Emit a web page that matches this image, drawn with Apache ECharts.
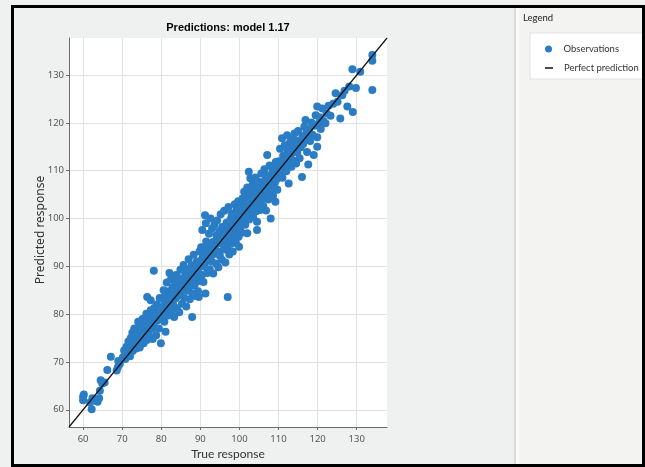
<!DOCTYPE html>
<html>
<head>
<meta charset="utf-8">
<script src="https://cdn.jsdelivr.net/npm/echarts@6/dist/echarts.min.js"></script>
<style>
html, body { margin: 0; padding: 0; background: #fff; }
#chart { width: 645px; height: 467px; }
</style>
</head>
<body>
<div id="chart"></div>
<script>
// axis range and ticks (both axes share them)
var axisRange = [56.4, 137.75];
var tickVals = [60, 70, 80, 90, 100, 110, 120, 130];

// observations [true response, predicted response]
var obs60s = [[60, 62.7], [60, 62], [60.2, 63.2], [62.4, 62.4], [62.2, 60.1], [63.7, 61.7], [64.1, 62.4], [63.4, 61.9],
    [61.8, 61.5], [64.3, 64], [64.5, 66.2], [64.9, 65.5], [65.5, 65.7], [66.2, 68.3], [67.1, 71.1], [68.6, 68.2],
    [69, 70.2], [69.4, 69.6], [68.9, 68.9]];
var obs70s = [[70.2, 71.0], [70.5, 72.4], [70.8, 70.6], [71.1, 73.2], [71.3, 71.9], [71.6, 74.3], [71.8, 72.6], [72.0, 71.2],
    [72.2, 75.0], [72.4, 73.6], [72.6, 76.1], [72.7, 72.3], [72.9, 74.7], [73.1, 77.0], [73.2, 73.4], [73.4, 75.6],
    [73.6, 72.8], [73.8, 76.8], [74.0, 74.2], [74.1, 78.4], [74.3, 75.3], [74.5, 73.0], [74.7, 77.6], [74.8, 75.9],
    [75.0, 74.4], [75.2, 79.0], [75.3, 76.6], [75.5, 73.9], [75.7, 78.0], [75.8, 75.1], [76.0, 77.3], [76.2, 80.1],
    [76.3, 74.6], [76.4, 83.6], [76.5, 78.6], [76.6, 76.2], [76.8, 79.4], [77.0, 75.4], [77.1, 77.8], [77.3, 82.9],
    [77.3, 80.8], [77.5, 76.9], [77.6, 79.1], [77.8, 74.8], [78.0, 78.3], [78.1, 89.1], [78.2, 81.3], [78.4, 77.2],
    [78.6, 79.8], [78.7, 75.6], [78.9, 82.0], [79.1, 78.7], [79.2, 80.6], [79.4, 77.0], [79.6, 83.4], [79.8, 79.3],
    [79.9, 73.9], [80.0, 81.4], [70.9, 72.0], [71.9, 73.9], [72.8, 73.9], [73.7, 74.6], [74.6, 76.4], [75.6, 76.0],
    [76.7, 77.5], [77.9, 79.5], [78.8, 80.8], [79.5, 80.3]];
var obs80s = [[80.2, 79.0], [80.3, 83.2], [80.5, 80.9], [80.6, 85.0], [80.8, 78.4], [81.0, 82.3], [81.1, 84.1], [81.1, 76.3],
    [81.3, 80.2], [81.4, 86.6], [81.6, 82.9], [81.8, 79.7], [81.9, 84.8], [82.1, 88.6], [82.2, 81.6], [82.4, 83.7],
    [82.5, 87.3], [82.7, 80.6], [82.9, 85.6], [83.0, 82.4], [83.2, 84.6], [83.3, 79.4], [83.5, 86.8], [83.7, 83.3],
    [83.8, 88.2], [84.0, 81.3], [84.1, 85.3], [84.3, 87.6], [84.5, 83.9], [84.6, 80.4], [84.8, 86.1], [84.9, 89.3],
    [85.1, 84.7], [85.3, 82.2], [85.4, 87.0], [85.6, 85.4], [85.7, 90.3], [85.9, 83.4], [86.1, 88.1], [86.2, 86.0],
    [86.4, 81.6], [86.5, 89.4], [86.7, 84.9], [86.9, 87.2], [87.0, 91.5], [87.2, 85.7], [87.3, 83.1], [87.5, 88.6],
    [87.7, 86.5], [87.8, 90.2], [87.9, 79.4], [88.0, 84.3], [88.2, 87.8], [88.3, 92.4], [88.5, 86.0], [88.7, 89.5],
    [88.8, 83.8], [89.0, 88.3], [89.1, 91.0], [89.3, 86.9], [89.4, 84.8], [89.6, 83.6], [89.6, 89.9], [89.8, 93.1],
    [89.9, 87.4], [80.9, 81.5], [82.0, 82.6], [83.1, 83.9], [84.2, 84.0], [85.0, 86.4], [85.8, 86.8], [86.6, 87.9],
    [87.4, 87.1], [88.1, 89.0], [88.9, 90.4], [89.5, 88.7]];
var obs90s = [[90.1, 90.6], [90.2, 94.0], [90.4, 88.2], [90.5, 97.6], [90.6, 91.8], [90.8, 86.7], [90.9, 93.4], [91.1, 89.9],
    [91.2, 100.7], [91.3, 84.3], [91.4, 99.0], [91.5, 95.2], [91.6, 91.1], [91.8, 88.6], [91.9, 94.6], [92.1, 92.3],
    [92.2, 96.8], [92.4, 89.4], [92.6, 100.0], [92.7, 93.7], [92.9, 91.0], [93.0, 97.9], [93.2, 95.1], [93.3, 88.5],
    [93.5, 92.6], [93.6, 98.7], [93.8, 94.3], [94.0, 90.6], [94.1, 96.5], [94.3, 99.6], [94.4, 93.1], [94.6, 89.8],
    [94.7, 95.7], [94.9, 97.4], [95.0, 92.2], [95.2, 100.9], [95.3, 94.8], [95.5, 91.4], [95.6, 98.2], [95.8, 96.0],
    [96.0, 93.5], [96.1, 101.6], [96.3, 97.0], [96.4, 90.8], [96.6, 95.3], [96.7, 99.1], [96.9, 94.0], [97.0, 83.6],
    [97.1, 97.8], [97.2, 102.4], [97.4, 92.5], [97.5, 96.4], [97.7, 99.8], [97.8, 94.7], [98.0, 101.0], [98.2, 97.3],
    [98.3, 93.1], [98.5, 100.2], [98.6, 95.9], [98.8, 103.0], [98.9, 98.4], [99.1, 94.9], [99.2, 101.7], [99.4, 97.1],
    [99.5, 99.3], [99.7, 103.6], [99.8, 96.2], [99.9, 94.1], [100.0, 100.6], [90.3, 91.3], [91.0, 92.4], [91.7, 93.1],
    [92.3, 91.9], [93.1, 94.4], [93.9, 95.2], [94.5, 94.9], [95.1, 96.6], [95.9, 95.7], [96.5, 97.9], [97.3, 98.8],
    [97.9, 97.9], [98.4, 99.1], [99.0, 99.9], [99.6, 100.8]];
var obs100s = [[100.2, 98.1], [100.3, 102.8], [100.5, 100.0], [100.6, 97.0], [100.8, 104.2], [100.9, 101.3], [101.1, 99.2],
    [101.2, 105.6], [101.4, 102.0], [101.5, 98.7], [101.7, 103.5], [101.8, 100.6], [102.0, 106.5], [102.0, 96.9],
    [102.1, 101.9], [102.3, 104.6], [102.4, 109.8], [102.5, 99.8], [102.6, 103.2], [102.8, 108.4], [102.9, 101.1],
    [103.1, 105.3], [103.2, 102.4], [103.4, 107.2], [103.5, 100.3], [103.7, 104.1], [103.8, 106.4], [104.0, 102.9],
    [104.1, 108.6], [104.3, 101.5], [104.5, 99.3], [104.5, 97.6], [104.6, 105.0], [104.8, 103.3], [104.9, 107.7],
    [105.1, 104.4], [105.3, 101.8], [105.4, 106.1], [105.6, 109.4], [105.7, 103.9], [105.9, 107.0], [106.1, 102.6],
    [106.2, 105.5], [106.4, 110.3], [106.5, 104.7], [106.7, 108.2], [106.8, 101.7], [107.0, 106.6], [107.1, 113.3],
    [107.2, 109.0], [107.4, 104.0], [107.6, 107.8], [107.7, 111.1], [107.9, 105.6], [108.0, 100.0], [108.1, 108.9],
    [108.3, 106.8], [108.5, 110.4], [108.6, 104.8], [108.8, 109.6], [109.0, 107.4], [109.2, 103.5], [109.3, 111.8],
    [109.5, 108.2], [109.7, 106.0], [109.8, 110.9], [100.4, 101.3], [101.0, 102.2], [101.6, 101.4], [102.2, 103.0],
    [102.7, 102.5], [103.3, 104.2], [103.9, 105.1], [104.4, 104.8], [105.0, 106.3], [105.5, 105.2], [106.0, 107.6],
    [106.6, 106.9], [107.3, 108.3], [107.8, 107.0], [108.4, 109.5], [108.9, 108.7], [109.4, 110.2]];
var obs110s = [[110.1, 112.0], [110.3, 109.2], [110.4, 114.6], [110.6, 111.4], [110.9, 116.8], [111.0, 108.5], [111.2, 113.1],
    [111.4, 110.6], [111.6, 115.3], [111.8, 112.4], [112.0, 109.9], [112.2, 117.4], [112.3, 114.0], [112.6, 107.3],
    [112.7, 111.7], [112.9, 115.9], [113.1, 113.2], [113.3, 110.8], [113.5, 116.5], [113.7, 114.3], [113.9, 112.1],
    [114.1, 117.8], [114.3, 115.0], [114.5, 111.5], [114.8, 113.8], [115.0, 118.3], [115.2, 116.1], [115.4, 112.6],
    [115.7, 114.9], [116.0, 108.7], [116.1, 117.3], [116.3, 115.6], [116.6, 119.2], [116.9, 120.6], [117.0, 116.6],
    [117.3, 113.9], [117.6, 111.3], [117.8, 118.6], [118.1, 116.2], [118.4, 120.1], [118.7, 117.5], [119.0, 113.3],
    [119.2, 119.4], [119.5, 121.6], [119.9, 117.0], [119.9, 115.0], [119.9, 123.4], [110.7, 110.5], [111.5, 112.9],
    [112.4, 112.2], [113.2, 114.6], [114.0, 113.9], [114.7, 116.2], [115.5, 115.4], [116.4, 116.9], [117.2, 118.3],
    [118.0, 117.8], [118.9, 119.6]];
var obs120s = [[120.2, 119.8], [120.5, 121.2], [120.8, 118.7], [121.2, 123.0], [121.5, 120.4], [122.0, 119.9], [122.3, 122.0],
    [122.8, 123.6], [123.3, 121.5], [124.0, 124.0], [124.6, 126.2], [125.1, 124.4], [125.8, 120.9], [126.3, 125.8],
    [126.9, 126.7], [127.6, 123.4], [128.1, 127.6], [129.0, 122.3], [128.9, 131.2], [129.8, 127.3], [130.9, 130.7],
    [134.0, 134.2], [134.0, 133.0], [134.0, 126.9]];

var observations = [].concat(obs60s, obs70s, obs80s, obs90s, obs100s, obs110s, obs120s);
var perfectLine = [[axisRange[0], axisRange[0]], [axisRange[1], axisRange[1]]];

var chart = echarts.init(document.getElementById('chart'));

var gridMarks = [];
tickVals.forEach(function (v) {
    gridMarks.push({xAxis: v});
    gridMarks.push({yAxis: v});
});

function makeAxis(margin) {
    return {
        type: 'value',
        min: axisRange[0],
        max: axisRange[1],
        splitLine: {show: false},
        axisLine: {show: true, lineStyle: {color: '#6b6b6b', width: 1}},
        axisTick: {show: true, customValues: tickVals, length: 3, lineStyle: {color: '#6b6b6b'}},
        axisLabel: {customValues: tickVals, margin: margin, color: '#555', fontSize: 9.5, fontFamily: 'Noto Sans'}
    };
}

var legendText = {fontSize: 9.5, color: '#333', fontFamily: 'Lato', padding: [0, 0, 0, 6]};

var option = {
    animation: false,
    backgroundColor: '#eff1f1',
    grid: {left: 69, top: 38, width: 318, height: 389, show: true, backgroundColor: '#fff', borderWidth: 0},
    xAxis: makeAxis(7),
    yAxis: makeAxis(5),
    legend: [
        {left: 540, top: 39, itemWidth: 8, itemHeight: 7, icon: 'circle', data: ['Observations'], textStyle: legendText},
        {left: 540, top: 58, itemWidth: 8, itemHeight: 1.5, icon: 'rect', data: ['Perfect prediction'], textStyle: legendText}
    ],
    graphic: [
        {type: 'rect', z: -10, shape: {x: 515, y: 6, width: 130, height: 461}, style: {fill: '#f3f3f2'}},
        {type: 'rect', z: -9, shape: {x: 514, y: 6, width: 2, height: 461}, style: {fill: '#dcdcdc'}},
        {type: 'rect', z: -9, shape: {x: 516, y: 6, width: 3, height: 461}, style: {fill: '#fafafa'}},
        {type: 'rect', z: -8, shape: {x: 530, y: 33, width: 120, height: 46}, style: {fill: '#fff', stroke: '#e3e3e3', lineWidth: 1}},
        {type: 'text', x: 523, y: 18, style: {text: 'Legend', font: '9.5px Lato', fill: '#222', textVerticalAlign: 'middle'}},
        {type: 'text', x: 228, y: 28, style: {text: 'Predictions: model 1.17', font: 'bold 11px "Liberation Sans"', fill: '#000', textAlign: 'center', textVerticalAlign: 'middle'}},
        {type: 'text', x: 228, y: 454, style: {text: 'True response', font: '12px Lato', fill: '#333', textAlign: 'center', textVerticalAlign: 'middle'}},
        {type: 'text', x: 41, y: 230, rotation: Math.PI / 2, style: {text: 'Predicted response', font: '12px "Noto Sans"', fill: '#333', textAlign: 'center', textVerticalAlign: 'middle'}},
        {type: 'rect', z: 100, shape: {x: 12.5, y: 6.5, width: 631, height: 459}, style: {fill: 'none', stroke: '#000', lineWidth: 3}}
    ],
    series: [
        {
            type: 'line',
            data: [],
            silent: true,
            z: 0,
            markLine: {
                z: 0,
                silent: true,
                symbol: ['none', 'none'],
                label: {show: false},
                lineStyle: {color: '#e2e2e2', width: 1, type: 'solid'},
                data: gridMarks
            }
        },
        {
            name: 'Observations',
            type: 'scatter',
            z: 3,
            symbolSize: 8,
            itemStyle: {color: '#2a7dc4', opacity: 1},
            data: observations
        },
        {
            name: 'Perfect prediction',
            type: 'line',
            z: 4,
            symbol: 'none',
            lineStyle: {color: '#111', width: 1.2},
            itemStyle: {color: '#111'},
            data: perfectLine
        }
    ]
};

chart.setOption(option);
</script>
</body>
</html>
